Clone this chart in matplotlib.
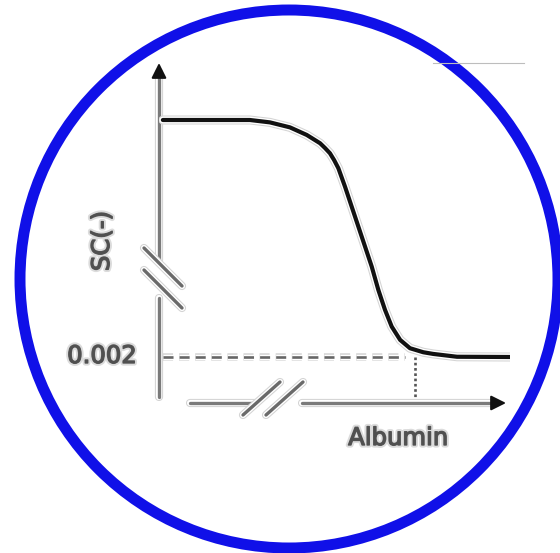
import matplotlib
matplotlib.use('Agg')
import matplotlib.pyplot as plt
import matplotlib.patheffects as pe
from matplotlib.patches import Circle

# data (arbitrary units, read from the schematic)
albumin = [0.11, 2.59, 3.16, 3.73, 4.21, 4.59, 4.73, 4.87, 4.99, 5.11, 5.30, 5.49, 5.68,
           5.87, 6.06, 6.25, 6.44, 6.63, 6.87, 7.15, 7.53, 7.81, 8.49, 10.0]
sc = [1.0, 1.0, 0.990, 0.969, 0.937, 0.902, 0.882, 0.860, 0.831, 0.797, 0.719, 0.635, 0.551,
      0.467, 0.383, 0.284, 0.200, 0.130, 0.074, 0.039, 0.022, 0.015, 0.003, 0.002]
sc_threshold = 0.002
albumin_threshold = 7.29
dash_end = 7.0
threshold_label = '0.002'
x_label = 'Albumin'
y_label = 'SC(-)'

W, H = 560, 553
fig = plt.figure(figsize=(W / 100, H / 100), dpi=100)

# overlay axes in pixel units for the decoration
ax0 = fig.add_axes([0, 0, 1, 1])
ax0.set_xlim(0, W)
ax0.set_ylim(H, 0)
ax0.axis('off')


def halo(lw):
    return [pe.Stroke(linewidth=lw + 3.5, foreground='#d4d4d4'),
            pe.Stroke(linewidth=lw + 2.0, foreground='white'),
            pe.Normal()]


gray = '#7a7a7a'
alw = 2.4

# blue ring
ax0.add_patch(Circle((289, 279), 269, fill=False, ec='#1010e8', lw=7.9))
# thin grey line top right
ax0.plot([433, 524], [63, 63], color='#bdbdbd', lw=0.8)

# y axis (with break)
ax0.plot([159, 159], [72, 260], color=gray, lw=alw, solid_capstyle='round', path_effects=halo(alw))
ax0.plot([159, 159], [298, 397], color=gray, lw=alw, solid_capstyle='round', path_effects=halo(alw))
ax0.annotate('', xy=(159, 63), xytext=(159, 76),
             arrowprops=dict(arrowstyle='-|>,head_length=0.9,head_width=0.45', color='#111111',
                             lw=1.5, shrinkA=0, shrinkB=0))
for y0 in (248, 270):
    ax0.plot([144, 182], [y0, y0 + 38], color='#6a6a6a', lw=alw, solid_capstyle='round',
             path_effects=halo(alw))

# x axis (with break)
ax0.plot([190, 256], [403, 403], color=gray, lw=alw, solid_capstyle='round', path_effects=halo(alw))
ax0.plot([302, 496], [403, 403], color=gray, lw=alw, solid_capstyle='round', path_effects=halo(alw))
ax0.annotate('', xy=(506, 403), xytext=(493, 403),
             arrowprops=dict(arrowstyle='-|>,head_length=0.9,head_width=0.45', color='#111111',
                             lw=1.5, shrinkA=0, shrinkB=0))
for x0 in (243, 266):
    ax0.plot([x0, x0 + 37], [415, 382], color='#6a6a6a', lw=alw, solid_capstyle='round',
             path_effects=halo(alw))

# labels (normal weight, thickened a little with a stroke)
txt = dict(color='#505050', fontsize=17.5, family='DejaVu Sans',
           path_effects=[pe.Stroke(linewidth=3.8, foreground='#dcdcdc'),
                         pe.Stroke(linewidth=1.0, foreground='#555555'),
                         pe.Normal()])
ax0.text(102, 356, threshold_label, ha='center', va='center', **txt)
ax0.text(398, 438, x_label, ha='center', va='center', **txt)
ax0.text(102, 241, y_label, ha='center', va='center', rotation=90, **txt)

# data axes: pixel box x 159..510, y 64..403
left, right, top, bottom = 159, 510, 64, 403
ax = fig.add_axes([left / W, 1 - bottom / H, (right - left) / W, (bottom - top) / H])
ax.patch.set_alpha(0)
ax.axis('off')
ppu_y = (357 - 120) / (1.0 - sc_threshold)
ax.set_xlim(0, 10)
ax.set_ylim(sc_threshold - (bottom - 357) / ppu_y, 1.0 + (120 - top) / ppu_y)
y_bottom = ax.get_ylim()[0]

ax.plot([0.11, dash_end], [sc_threshold, sc_threshold], color='#666666', lw=1.9,
        linestyle=(0, (3.8, 2.3)), path_effects=halo(1.9))
ax.plot([albumin_threshold, albumin_threshold], [sc_threshold, y_bottom + 0.02],
        color='#555555', lw=1.9, linestyle=(0, (1, 1)))
ax.plot(albumin, sc, color='#111111', lw=3.0, solid_capstyle='round', solid_joinstyle='round',
        path_effects=halo(3.0))

fig.savefig('out.png', dpi=100, facecolor='white')
